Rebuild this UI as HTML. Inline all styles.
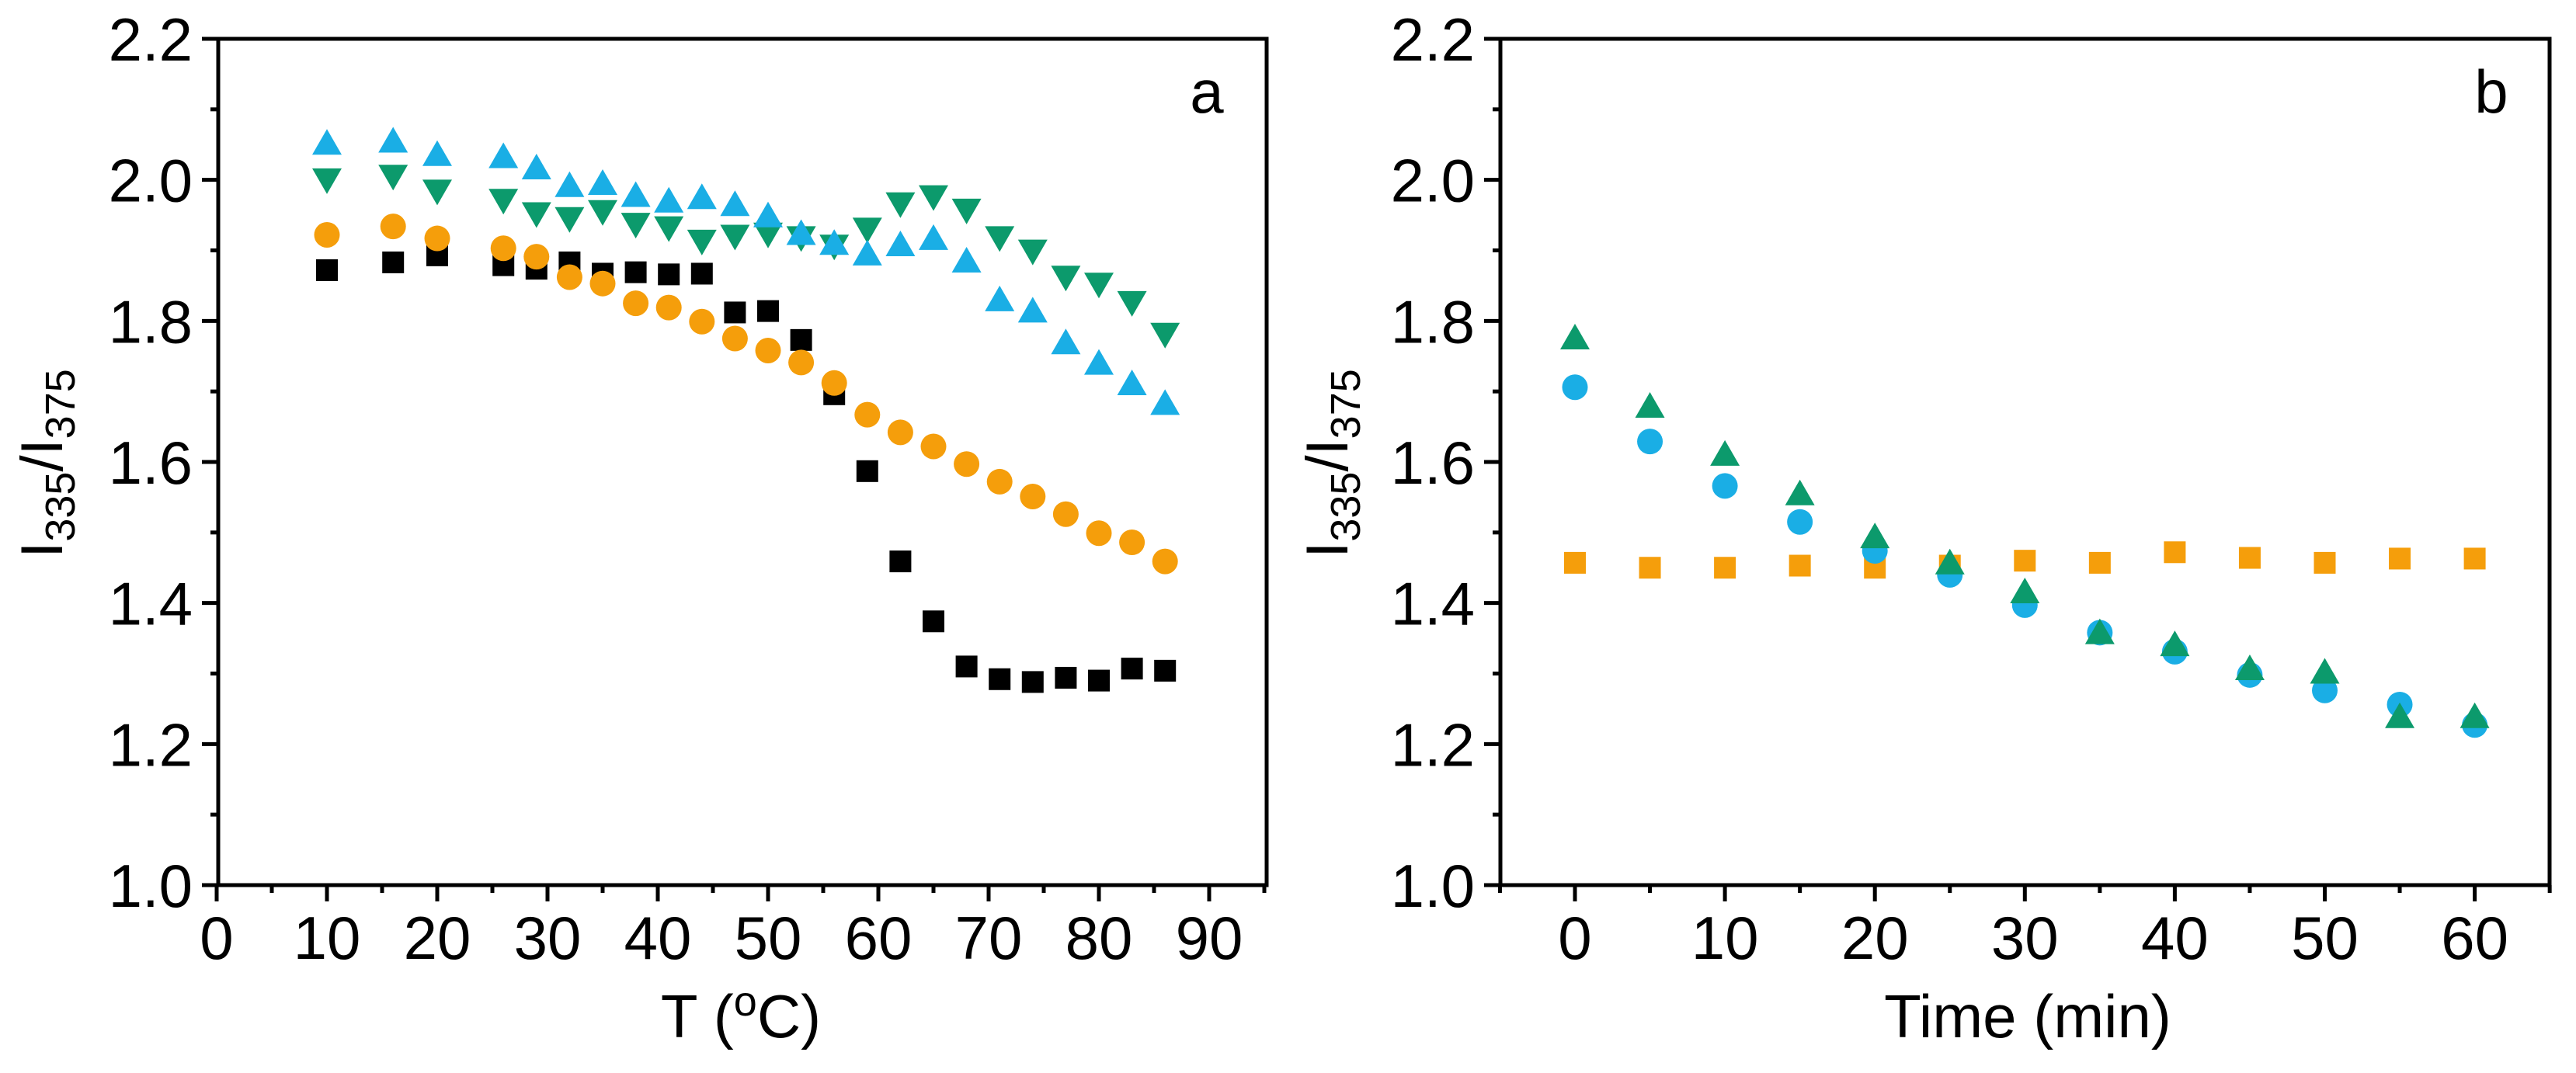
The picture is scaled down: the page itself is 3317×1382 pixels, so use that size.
<!DOCTYPE html>
<html><head><meta charset="utf-8"><style>
html,body{margin:0;padding:0;background:#fff;}
svg{display:block;font-family:"Liberation Sans",Arial,sans-serif;}
</style></head><body>
<svg id="chart" width="3317" height="1382" viewBox="0 0 3317 1382"></svg>
<script>
// Panel a data
const aX = [10,16,20,26,29,32,35,38,41,44,47,50,53,56,59,62,65,68,71,74,77,80,83,86];
const aSquares = [1.872,1.883,1.893,1.879,1.874,1.883,1.867,1.869,1.866,1.867,1.812,1.814,1.773,1.696,1.587,1.459,1.374,1.310,1.292,1.288,1.294,1.290,1.307,1.304];
const aCircles = [1.922,1.934,1.917,1.903,1.891,1.862,1.853,1.825,1.819,1.799,1.775,1.758,1.741,1.712,1.667,1.642,1.622,1.597,1.572,1.551,1.526,1.499,1.486,1.459];
const aUp = [2.050,2.053,2.034,2.031,2.015,1.990,1.993,1.976,1.968,1.973,1.963,1.947,1.922,1.908,1.893,1.906,1.915,1.883,1.828,1.812,1.767,1.738,1.709,1.681];
const aDown = [2.002,2.007,1.986,1.973,1.954,1.947,1.957,1.939,1.934,1.915,1.922,1.925,1.920,1.908,1.932,1.968,1.978,1.959,1.920,1.901,1.864,1.854,1.828,1.783];
const aXTicks = ["0","10","20","30","40","50","60","70","80","90"];
// Panel b data
const bX = [0,5,10,15,20,25,30,35,40,45,50,55,60];
const bSquares = [1.457,1.450,1.450,1.453,1.450,1.453,1.460,1.457,1.472,1.464,1.457,1.463,1.463];
const bCircles = [1.706,1.629,1.566,1.515,1.474,1.440,1.397,1.358,1.331,1.298,1.276,1.256,1.227];
const bUp = [1.774,1.677,1.609,1.553,1.492,1.455,1.414,1.356,1.339,1.305,1.300,1.237,1.237];
const bXTicks = ["0","10","20","30","40","50","60"];
const yTicks = ["1.0","1.2","1.4","1.6","1.8","2.0","2.2"];

const NS = "http://www.w3.org/2000/svg";
const svg = document.getElementById("chart");
function mk(tag, attrs, parent){
  const e = document.createElementNS(NS, tag);
  for (const k in attrs) e.setAttribute(k, attrs[k]);
  (parent||svg).appendChild(e);
  return e;
}
const COL = {black:"#000", orange:"#f59e0b", blue:"#1aaee5", green:"#0c9a6c"};

function panel(cfg){
  const g = mk("g", {});
  
  
  const L=cfg.left, R=cfg.right, T=50, B=1140;
  const sx = v => cfg.x0px + (v - 0) * cfg.pxPerUnit;
  const sy = v => B - (v - 1.0) / 1.2 * (B - T);
  // frame
  const fr = mk("rect", {x:L, y:T, width:R-L, height:B-T, fill:"none", stroke:"#000", "stroke-width":5}, g);
  
  
  // y ticks
  for (let i=0;i<=12;i++){
    const v = 1.0 + i*0.1, y = sy(v), major = i%2===0;
    const t = mk("line", {x1:L-(major?21:10), x2:L, y1:y, y2:y, stroke:"#000", "stroke-width":5}, g);
    
    
  }
  yTicks.forEach(s => {
    const tx = mk("text", {x:L-33, y:sy(parseFloat(s))+28, "text-anchor":"end", "font-size":78}, g);
    
    
    tx.textContent = s;
  });
  // x ticks
  for (let v=cfg.xMinTick; v<=cfg.xMaxTick; v+=5){
    const x = sx(v), major = v%10===0;
    const t = mk("line", {x1:x, x2:x, y1:B, y2:B+(major?21:10), stroke:"#000", "stroke-width":5}, g);
    
    
  }
  cfg.xTicks.forEach(s => {
    const tx = mk("text", {x:sx(parseFloat(s)), y:1235, "text-anchor":"middle", "font-size":78}, g);
    
    
    tx.textContent = s;
  });
  // axis titles
  const xt = mk("text", {x:cfg.xTitleX, y:1336, "text-anchor":"middle", "font-size":78}, g);
  
  
  xt.innerHTML = cfg.xTitle;
  const yt = mk("text", {transform:`translate(${cfg.yTitleX},597) rotate(-90)`, "text-anchor":"middle", "font-size":76}, g);
  
  
  yt.innerHTML = 'I<tspan font-size="54" dy="16">335</tspan><tspan dy="-16">/I</tspan><tspan font-size="54" dy="16">375</tspan>';
  const pl = mk("text", {x:cfg.labelX, y:145, "text-anchor":"middle", "font-size":78}, g);
  
  
  pl.textContent = cfg.label;
  return {g, sx, sy};
}

function series(p, xs, ys, shape, color, name){
  const sg = mk("g", {fill:color}, p.g);
  
  
  xs.forEach((xv,i) => {
    const cx = p.sx(xv), cy = p.sy(ys[i]);
    let e;
    if (shape==="square") e = mk("rect", {x:cx-14, y:cy-14, width:28, height:28}, sg);
    else if (shape==="circle") e = mk("circle", {cx, cy, r:16.5}, sg);
    else if (shape==="up") e = mk("polygon", {points:`${cx},${cy-20} ${cx-19},${cy+13} ${cx+19},${cy+13}`}, sg);
    else e = mk("polygon", {points:`${cx},${cy+20} ${cx-19},${cy-13} ${cx+19},${cy-13}`}, sg);
    
    
  });
}

const pa = panel({name:"panel-a", left:281, right:1631, x0px:279, pxPerUnit:14.2, xMinTick:0, xMaxTick:95,
  xTicks:aXTicks, xTitle:'T (<tspan font-size="54" dy="-28">o</tspan><tspan dy="28">C)</tspan>', xTitleX:954, yTitleX:80, labelX:1554, label:"a"});
series(pa, aX, aSquares, "square", COL.black, "series-squares");
series(pa, aX, aCircles, "circle", COL.orange, "series-circles");
series(pa, aX, aDown, "down", COL.green, "series-down-triangles");
series(pa, aX, aUp, "up", COL.blue, "series-up-triangles");

const pb = panel({name:"panel-b", left:1932, right:3283, x0px:2028, pxPerUnit:19.31, xMinTick:-5, xMaxTick:65,
  xTicks:bXTicks, xTitle:'Time (min)', xTitleX:2611, yTitleX:1735, labelX:3208, label:"b"});
series(pb, bX, bSquares, "square", COL.orange, "series-squares");
series(pb, bX, bCircles, "circle", COL.blue, "series-circles");
series(pb, bX, bUp, "up", COL.green, "series-triangles");
</script>
</body></html>
